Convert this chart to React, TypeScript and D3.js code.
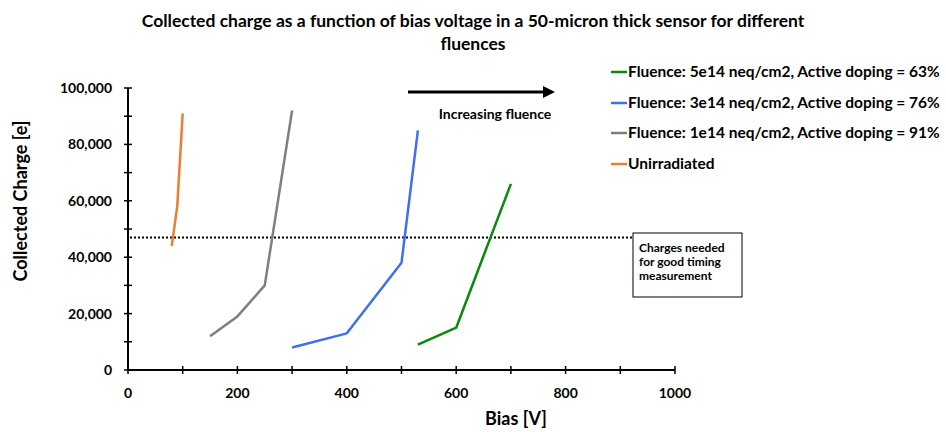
import React from "react";
import * as d3 from "d3";

const W = 946;
const H = 432;

const seriesNames = [
  "Fluence: 5e14 neq/cm2, Active doping = 63%",
  "Fluence: 3e14 neq/cm2, Active doping = 76%",
  "Fluence: 1e14 neq/cm2, Active doping = 91%",
  "Unirradiated",
];
const seriesColors = ["#0a8a0a", "#3d6ff0", "#7f7f7f", "#ed7d31"];

const greenBias = [530, 600, 700];
const greenCharge = [9000, 15000, 66000];
const blueBias = [300, 400, 500, 530];
const blueCharge = [8000, 13000, 38000, 85000];
const grayBias = [150, 200, 250, 300];
const grayCharge = [12000, 19000, 30000, 92000];
const orangeBias = [80, 90, 100];
const orangeCharge = [44000, 58000, 91000];

const thresholdCharge = 47000;
const thresholdEndBias = 935;

const xTicks = [0, 200, 400, 600, 800, 1000];
const xMinorTicks = [0, 100, 200, 300, 400, 500, 600, 700, 800, 900, 1000];
const yTicks = [0, 20000, 40000, 60000, 80000, 100000];
const yMinorTicks = [0, 10000, 20000, 30000, 40000, 50000, 60000, 70000, 80000, 90000, 100000];

const FONT = "Lato, 'Open Sans', sans-serif";

export default function App() {
  const x = d3.scaleLinear().domain([0, 1000]).range([128, 675]);
  const y = d3.scaleLinear().domain([0, 100000]).range([370, 88]);
  const fmt = d3.format(",");

  const series = [
    { b: greenBias, c: greenCharge },
    { b: blueBias, c: blueCharge },
    { b: grayBias, c: grayCharge },
    { b: orangeBias, c: orangeCharge },
  ];
  const line = d3
    .line<[number, number]>()
    .x((d) => x(d[0]))
    .y((d) => y(d[1]));

  const legendY = [72, 103, 133, 164];

  return (
    <svg
      width={W}
      height={H}
      style={{ position: "absolute", left: 0, top: 0, background: "#fff" }}
      fontFamily={FONT}
    >
      <rect width={W} height={H} fill="#fff" />
      {/* title */}
      <text x={473} y={27} textAnchor="middle" fontWeight="bold" fontSize={17.5} fill="#000">
        Collected charge as a function of bias voltage in a 50-micron thick sensor for different
      </text>
      <text x={473} y={50} textAnchor="middle" fontWeight="bold" fontSize={17.5} fill="#000">
        fluences
      </text>

      {/* threshold dotted line */}
      <line
        x1={x(0) + 2}
        x2={x(thresholdEndBias)}
        y1={y(thresholdCharge)}
        y2={y(thresholdCharge)}
        stroke="#000"
        strokeWidth={2}
        strokeDasharray="2,2"
      />

      {/* axes */}
      <line x1={x(0)} x2={x(0)} y1={y(0)} y2={y(100000)} stroke="#000" strokeWidth={2} />
      <line x1={x(0)} x2={x(1000)} y1={y(0)} y2={y(0)} stroke="#000" strokeWidth={2} />
      {yMinorTicks.map((t) => (
        <line key={"ym" + t} x1={x(0) - 4} x2={x(0) + 4} y1={y(t)} y2={y(t)} stroke="#000" strokeWidth={1.5} />
      ))}
      {xMinorTicks.map((t) => (
        <line key={"xm" + t} x1={x(t)} x2={x(t)} y1={y(0) - 4} y2={y(0) + 4} stroke="#000" strokeWidth={1.5} />
      ))}
      {yTicks.map((t) => (
        <text key={"yt" + t} x={112} y={y(t) + 5} textAnchor="end" fontWeight="bold" fontSize={14} fill="#000">
          {fmt(t)}
        </text>
      ))}
      {xTicks.map((t) => (
        <text key={"xt" + t} x={x(t)} y={398} textAnchor="middle" fontWeight="bold" fontSize={14} fill="#000">
          {t}
        </text>
      ))}
      <text
        transform={`translate(27,${201}) rotate(-90)`}
        textAnchor="middle"
        fontWeight="bold"
        fontSize={18}
        fill="#000"
      >
        Collected Charge [e]
      </text>
      <text x={516} y={425} textAnchor="middle" fontWeight="bold" fontSize={18} fill="#000">
        Bias [V]
      </text>

      {/* series */}
      {series.map((s, i) => (
        <path
          key={"s" + i}
          d={line(s.b.map((b, j) => [b, s.c[j]] as [number, number])) || ""}
          fill="none"
          stroke={seriesColors[i]}
          strokeWidth={2.5}
          strokeLinejoin="round"
        />
      ))}

      {/* arrow */}
      <defs>
        <marker id="arrowhead" markerWidth="4" markerHeight="4" refX="2" refY="2" orient="auto" markerUnits="strokeWidth">
          <path d="M0,0 L4,2 L0,4 Z" fill="#000" />
        </marker>
      </defs>
      <line x1={408} x2={549} y1={92} y2={92} stroke="#000" strokeWidth={3} markerEnd="url(#arrowhead)" />
      <text x={495} y={119} textAnchor="middle" fontWeight="bold" fontSize={14} fill="#000">
        Increasing fluence
      </text>

      {/* annotation box */}
      <rect x={633} y={233} width={109} height={64} fill="#fff" stroke="#000" strokeWidth={1} />
      {["Charges needed", "for good timing", "measurement"].map((t, i) => (
        <text key={"ann" + i} x={639} y={252 + i * 14} fontWeight="bold" fontSize={12} fill="#000">
          {t}
        </text>
      ))}

      {/* legend */}
      {seriesNames.map((n, i) => (
        <g key={"lg" + i}>
          <line x1={611} x2={627} y1={legendY[i]} y2={legendY[i]} stroke={seriesColors[i]} strokeWidth={2.5} />
          <text x={628} y={legendY[i] + 5} fontWeight="bold" fontSize={15.5} fill="#000">
            {n}
          </text>
        </g>
      ))}
    </svg>
  );
}
